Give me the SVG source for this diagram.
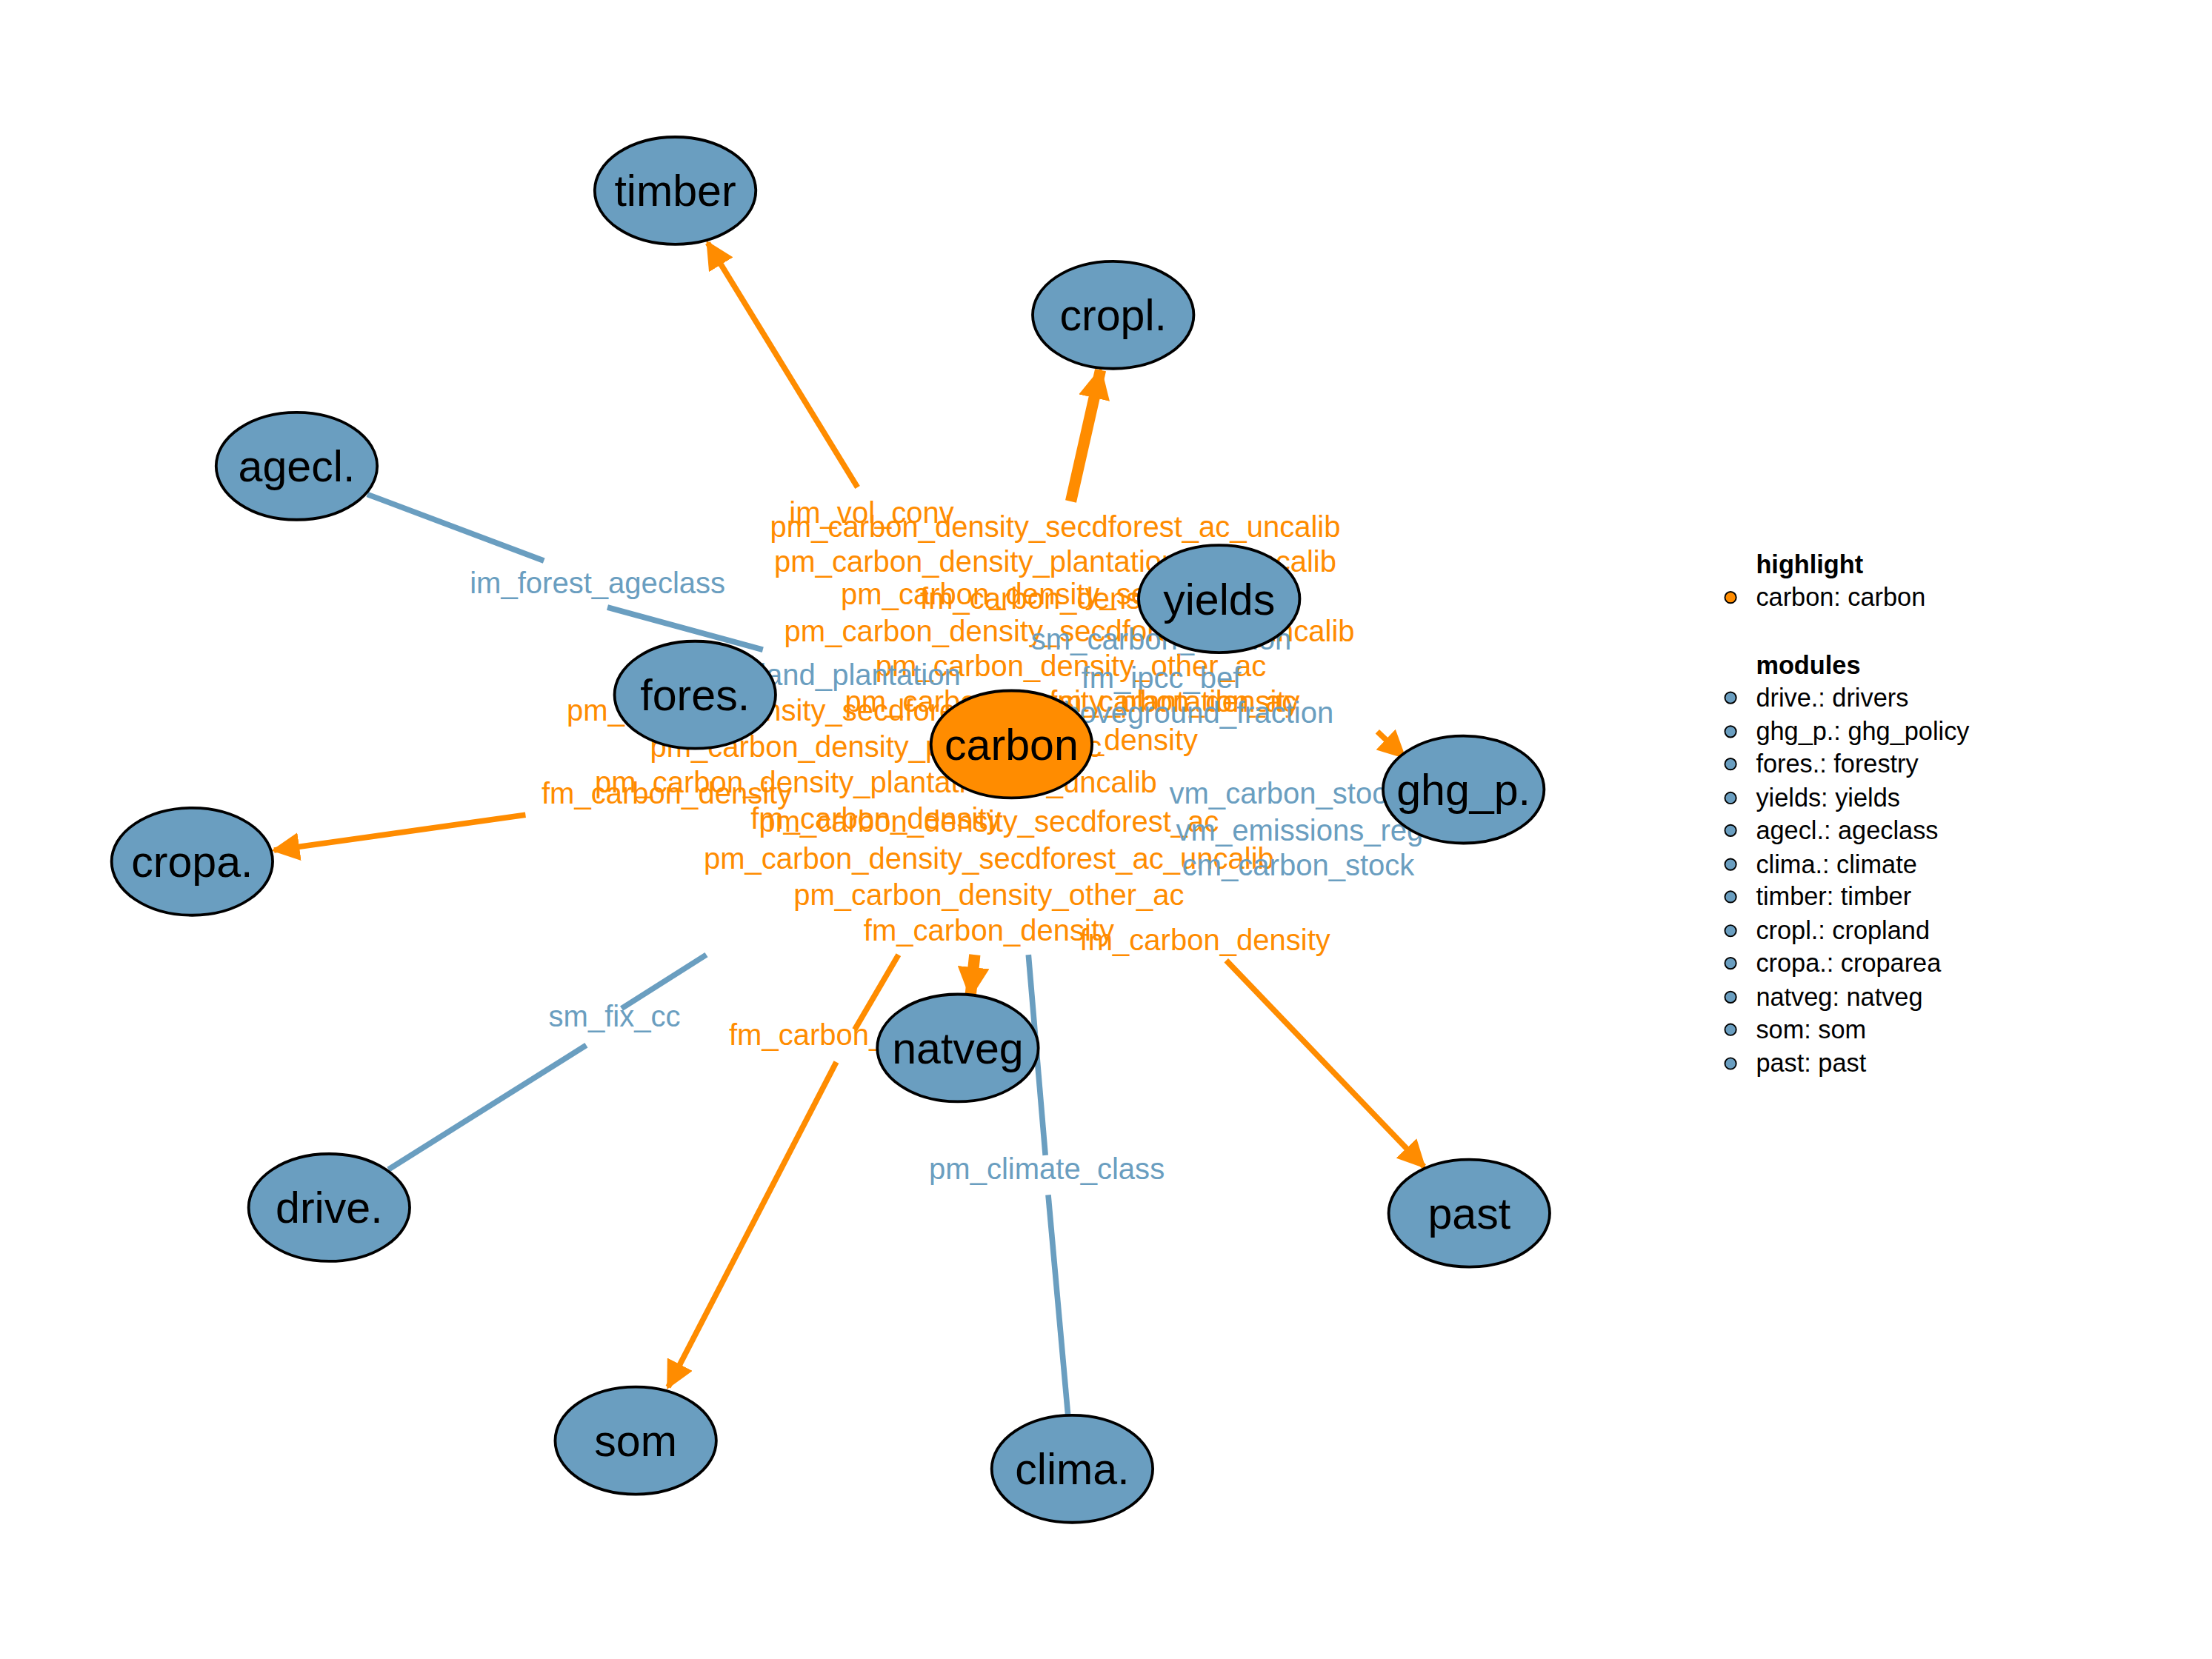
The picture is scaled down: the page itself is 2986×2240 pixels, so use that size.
<svg xmlns="http://www.w3.org/2000/svg" width="2986" height="2240" viewBox="0 0 2986 2240">
<style>
.n{stroke:#000;stroke-width:2}
.m{fill:#6a9ec0}
.h{fill:#ff8c00}
.nt{font-family:"Liberation Sans",Arial,sans-serif;font-size:31px;text-anchor:middle;fill:#000}
.lo{font-family:"Liberation Sans",Arial,sans-serif;font-size:21px;text-anchor:middle;fill:#ff8c00}
.lb{font-family:"Liberation Sans",Arial,sans-serif;font-size:21px;text-anchor:middle;fill:#6a9ec0}
.e{text-anchor:end}
.s{text-anchor:start}
.eo{stroke:#ff8c00;stroke-width:4;fill:none}
.eb{stroke:#6a9ec0;stroke-width:4;fill:none}
.th{stroke-width:8}
.lg{font-family:"Liberation Sans",Arial,sans-serif;font-size:18px;fill:#000}
</style>
<defs>
<marker id="a" viewBox="0 0 10 10" refX="9" refY="5" markerWidth="5" markerHeight="5" orient="auto" markerUnits="strokeWidth"><path d="M0,0L10,5L0,10z" fill="#ff8c00"/></marker>
<marker id="at" viewBox="0 0 10 10" refX="9" refY="5" markerWidth="2.8" markerHeight="2.8" orient="auto" markerUnits="strokeWidth"><path d="M0,0L10,5L0,10z" fill="#ff8c00"/></marker>
</defs>
<rect width="2986" height="2240" fill="#fff"/>
<g transform="scale(1.907)">
<g id="edges">
<line class="eo" x1="607" y1="345" x2="501" y2="172" marker-end="url(#a)"/>
<line class="eo th" x1="758" y1="355" x2="779" y2="262" marker-end="url(#at)"/>
<line class="eb" x1="260" y1="350" x2="385" y2="397"/>
<line class="eb" x1="430" y1="430" x2="540" y2="460"/>
<line class="eo" x1="975" y1="518" x2="994" y2="536" marker-end="url(#a)"/>
<line class="eo" x1="372" y1="577" x2="194" y2="602" marker-end="url(#a)"/>
<line class="eb" x1="500" y1="676" x2="440" y2="714"/>
<line class="eb" x1="415" y1="740" x2="275" y2="828"/>
<line class="eo" x1="636" y1="676" x2="605" y2="729"/>
<line class="eo" x1="592" y1="752" x2="473" y2="982" marker-end="url(#a)"/>
<line class="eo th" x1="690" y1="676" x2="687" y2="705" marker-end="url(#at)"/>
<line class="eb" x1="728" y1="676" x2="740" y2="818"/>
<line class="eb" x1="742" y1="846" x2="756" y2="1002"/>
<line class="eo" x1="868" y1="680" x2="1008" y2="826" marker-end="url(#a)"/>
</g>
<g id="labels">
<text class="lo" x="617" y="370">im_vol_conv</text>
<text class="lo" x="747" y="380">pm_carbon_density_secdforest_ac_uncalib</text>
<text class="lb" x="423" y="420">im_forest_ageclass</text>
<text class="lo" x="747" y="405">pm_carbon_density_plantation_ac_uncalib</text>
<text class="lo" x="758" y="428">pm_carbon_density_secdforest_ac</text>
<text class="lo" x="740" y="431">fm_carbon_density</text>
<text class="lo" x="757" y="454">pm_carbon_density_secdforest_ac_uncalib</text>
<text class="lb" x="822" y="460">sm_carbon_fraction</text>
<text class="lo" x="758" y="479">pm_carbon_density_other_ac</text>
<text class="lb e" x="680" y="485">pm_land_plantation</text>
<text class="lb" x="822" y="487">fm_ipcc_bef</text>
<text class="lo" x="758" y="504">pm_carbon_density_plantation_ac</text>
<text class="lo e" x="920" y="504">fm_carbon_density</text>
<text class="lo" x="564" y="510">pm_carbon_density_secdforest_ac</text>
<text class="lb e" x="944" y="512">fm_aboveground_fraction</text>
<text class="lo" x="620" y="536">pm_carbon_density_plantation_ac</text>
<text class="lo e" x="848" y="531">fm_carbon_density</text>
<text class="lo" x="620" y="561">pm_carbon_density_plantation_ac_uncalib</text>
<text class="lo" x="472" y="569">fm_carbon_density</text>
<text class="lb" x="910" y="569">vm_carbon_stock</text>
<text class="lo" x="620" y="587">fm_carbon_density</text>
<text class="lo" x="700" y="589">pm_carbon_density_secdforest_ac</text>
<text class="lb" x="920" y="595">vm_emissions_reg</text>
<text class="lo" x="700" y="615">pm_carbon_density_secdforest_ac_uncalib</text>
<text class="lb" x="919" y="620">cm_carbon_stock</text>
<text class="lo" x="700" y="641">pm_carbon_density_other_ac</text>
<text class="lo" x="700" y="666">fm_carbon_density</text>
<text class="lo" x="853" y="673">fm_carbon_density</text>
<text class="lb" x="435" y="727">sm_fix_cc</text>
<text class="lo s" x="516" y="740">fm_carbon_density</text>
<text class="lb" x="741" y="835">pm_climate_class</text>
</g>
<g id="timber"><ellipse class="n m" cx="478" cy="135" rx="57" ry="38"/><text class="nt" x="478" y="146">timber</text></g>
<g id="cropl"><ellipse class="n m" cx="788" cy="223" rx="57" ry="38"/><text class="nt" x="788" y="234">cropl.</text></g>
<g id="agecl"><ellipse class="n m" cx="210" cy="330" rx="57" ry="38"/><text class="nt" x="210" y="341">agecl.</text></g>
<g id="yields"><ellipse class="n m" cx="863" cy="424" rx="57" ry="38"/><text class="nt" x="863" y="435">yields</text></g>
<g id="fores"><ellipse class="n m" cx="492" cy="492" rx="57" ry="38"/><text class="nt" x="492" y="503">fores.</text></g>
<g id="carbon"><ellipse class="n h" cx="716" cy="527" rx="57" ry="38"/><text class="nt" x="716" y="538">carbon</text></g>
<g id="ghg_p"><ellipse class="n m" cx="1036" cy="559" rx="57" ry="38"/><text class="nt" x="1036" y="570">ghg_p.</text></g>
<g id="cropa"><ellipse class="n m" cx="136" cy="610" rx="57" ry="38"/><text class="nt" x="136" y="621">cropa.</text></g>
<g id="natveg"><ellipse class="n m" cx="678" cy="742" rx="57" ry="38"/><text class="nt" x="678" y="753">natveg</text></g>
<g id="drive"><ellipse class="n m" cx="233" cy="855" rx="57" ry="38"/><text class="nt" x="233" y="866">drive.</text></g>
<g id="past"><ellipse class="n m" cx="1040" cy="859" rx="57" ry="38"/><text class="nt" x="1040" y="870">past</text></g>
<g id="som"><ellipse class="n m" cx="450" cy="1020" rx="57" ry="38"/><text class="nt" x="450" y="1031">som</text></g>
<g id="clima"><ellipse class="n m" cx="759" cy="1040" rx="57" ry="38"/><text class="nt" x="759" y="1051">clima.</text></g>
<g id="legend">
<text class="lg" x="1243" y="406" font-weight="bold">highlight</text>
<circle cx="1225" cy="423" r="4" class="h" stroke="#000"/><text class="lg" x="1243" y="429">carbon: carbon</text>
<text class="lg" x="1243" y="477" font-weight="bold">modules</text>
<g class="m" stroke="#000">
<circle cx="1225" cy="494" r="4"/><circle cx="1225" cy="518" r="4"/><circle cx="1225" cy="541" r="4"/><circle cx="1225" cy="565" r="4"/><circle cx="1225" cy="588" r="4"/><circle cx="1225" cy="612" r="4"/><circle cx="1225" cy="635" r="4"/><circle cx="1225" cy="659" r="4"/><circle cx="1225" cy="682" r="4"/><circle cx="1225" cy="706" r="4"/><circle cx="1225" cy="729" r="4"/><circle cx="1225" cy="753" r="4"/>
</g>
<text class="lg" x="1243" y="500">drive.: drivers</text>
<text class="lg" x="1243" y="524">ghg_p.: ghg_policy</text>
<text class="lg" x="1243" y="547">fores.: forestry</text>
<text class="lg" x="1243" y="571">yields: yields</text>
<text class="lg" x="1243" y="594">agecl.: ageclass</text>
<text class="lg" x="1243" y="618">clima.: climate</text>
<text class="lg" x="1243" y="641">timber: timber</text>
<text class="lg" x="1243" y="665">cropl.: cropland</text>
<text class="lg" x="1243" y="688">cropa.: croparea</text>
<text class="lg" x="1243" y="712">natveg: natveg</text>
<text class="lg" x="1243" y="735">som: som</text>
<text class="lg" x="1243" y="759">past: past</text>
</g>
</g>
</svg>
